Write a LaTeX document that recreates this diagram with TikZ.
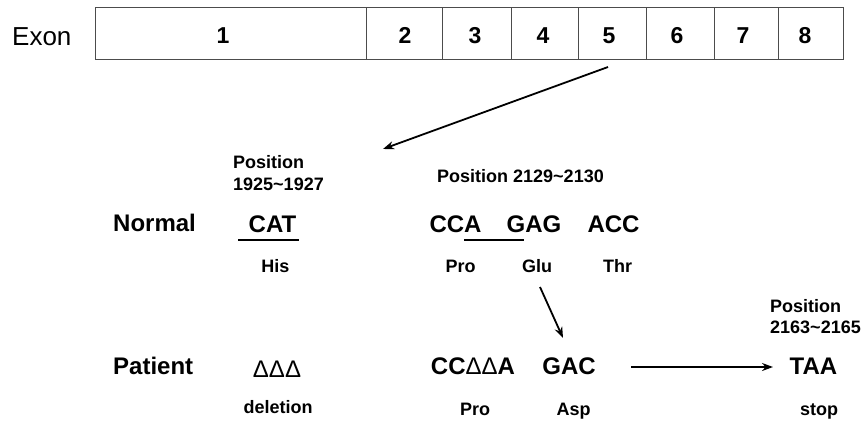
\documentclass[tikz,border=0pt]{standalone}
\usepackage{fontspec}
\setmainfont{Liberation Sans}
\usetikzlibrary{arrows.meta}
\begin{document}
\begin{tikzpicture}[x=1pt,y=-1pt,
  big/.style={font=\bfseries\fontsize{24}{28}\selectfont, inner sep=0, anchor=base},
  lab/.style={font=\bfseries\fontsize{18}{21}\selectfont, inner sep=0, anchor=base},
  ex/.style={font=\fontsize{26}{30}\selectfont, inner sep=0, anchor=base west},
  num/.style={font=\bfseries\fontsize{23}{27}\selectfont, inner sep=0, anchor=base},
  boxline/.style={draw=black!70, line width=1pt},
  arr/.style={line width=1.8pt, -{Stealth[length=11pt,width=8pt]}},
  ul/.style={line width=2.6pt}]
\useasboundingbox (0,0) rectangle (866,423);
% exon bar
\node[ex] (exon) at (12,45) {Exon};
\draw[boxline] (95,7) rectangle (843,59);
\foreach \x in {366.5,442,511,578,646,714,778} {\draw[boxline] (\x,7) -- (\x,59);}
\node[num] (e1) at (223,43) {1};
\node[num] (e2) at (405,43) {2};
\node[num] (e3) at (475,43) {3};
\node[num] (e4) at (543,43) {4};
\node[num] (e5) at (609,43) {5};
\node[num] (e6) at (677,43) {6};
\node[num] (e7) at (743,43) {7};
\node[num] (e8) at (805,43) {8};
\coordinate (zs) at (608,67);
\coordinate (ze) at (383,149);
\draw[arr] (zs) -- (ze);
% positions
\node[lab, anchor=base west] (p1a) at (233,168) {Position};
\node[lab, anchor=base west] (p1b) at (233,190) {1925\textasciitilde1927};
\node[lab, anchor=base west] (p2) at (437,182) {Position 2129\textasciitilde2130};
\node[lab, anchor=base west] (p3a) at (770,312) {Position};
\node[lab, anchor=base west] (p3b) at (770,333) {2163\textasciitilde2165};
% normal row
\node[big, anchor=base west] (normal) at (113,231) {Normal};
\node[big] (cat) at (272.5,232) {CAT};
\node[big] (cca) at (455.5,232) {CCA};
\node[big] (gag) at (534,232) {GAG};
\node[big] (acc) at (613.5,232) {ACC};
\draw[ul] (238,240) -- (299,240);
\draw[ul] (464,240) -- (524,240);
\node[lab] (his) at (275.5,272) {His};
\node[lab] (pro1) at (460.5,272) {Pro};
\node[lab] (glu) at (537,272) {Glu};
\node[lab] (thr) at (617.5,272) {Thr};
% patient row
\node[big, anchor=base west] (patient) at (113,374) {Patient};
\node[big] (del) at (277,377) {\mdseries ΔΔΔ};
\node[big] (ccdda) at (473,374) {CC{\mdseries ΔΔ}A};
\node[big] (gac) at (569,374) {GAC};
\node[big] (taa) at (813.5,374) {TAA};
\node[lab] (deltxt) at (278,413) {deletion};
\node[lab] (pro2) at (475,415) {Pro};
\node[lab] (asp) at (573.5,415) {Asp};
\node[lab] (stop) at (819,415) {stop};
% arrows
\coordinate (gs) at (540,287);
\coordinate (ge) at (563,338);
\draw[arr] (gs) -- (ge);
\coordinate (ts) at (631,367);
\coordinate (te) at (773,367);
\draw[arr] (ts) -- (te);
\end{tikzpicture}
\end{document}
